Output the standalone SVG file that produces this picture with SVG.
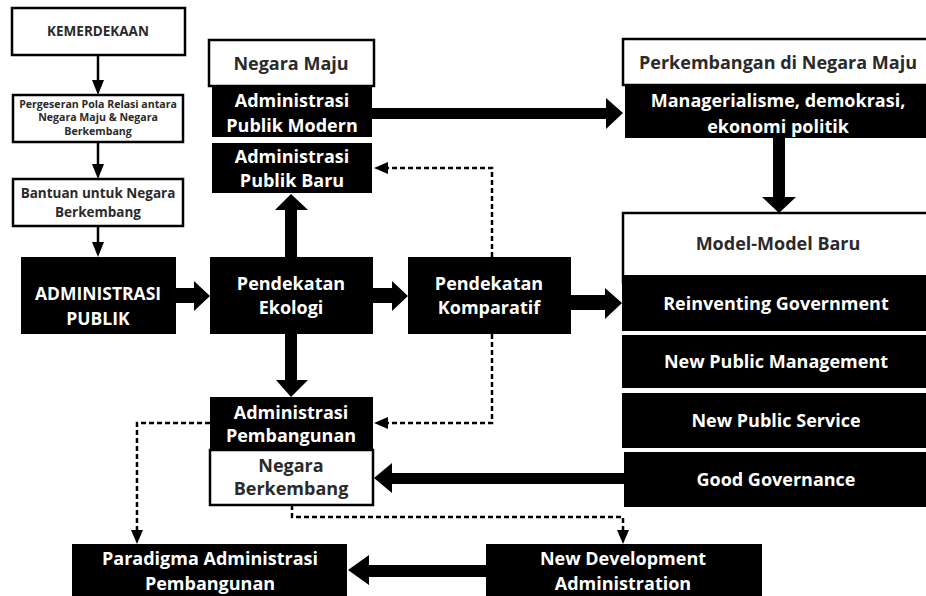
<svg xmlns="http://www.w3.org/2000/svg" width="926" height="596" viewBox="0 0 926 596">
<style>
.wb{fill:#fff;stroke:#000;stroke-width:2.5}
.bb{fill:#000}
text{font-family:"Open Sans","DejaVu Sans",sans-serif;font-weight:bold;text-anchor:middle;dominant-baseline:central}
.tw{fill:#fff}
.td{fill:#2a2a2a}
.f17{font-size:18px}
.thin{stroke:#000;stroke-width:2.5;fill:none}
.dash{stroke:#000;stroke-width:2.5;fill:none;stroke-dasharray:5 3}
.ah{fill:#000}
</style>
<rect width="926" height="596" fill="#fff"/>
<g id="kemerdekaan"><rect class="wb" x="12" y="8" width="173" height="47"/><text class="td" x="98" y="31" font-size="13.5">KEMERDEKAAN</text></g>
<g id="pergeseran"><rect class="wb" x="13" y="95" width="170" height="47"/>
<text class="td" x="98" y="104" font-size="10.6">Pergeseran Pola Relasi antara</text>
<text class="td" x="98" y="117" font-size="10.6">Negara Maju &amp; Negara</text>
<text class="td" x="98" y="131" font-size="10.6">Berkembang</text></g>
<g id="bantuan"><rect class="wb" x="13" y="179" width="170" height="47"/>
<text class="td" x="98" y="193" font-size="13.5">Bantuan untuk Negara</text>
<text class="td" x="98" y="212" font-size="13.5">Berkembang</text></g>
<g id="adm-publik"><rect class="bb" x="21" y="257" width="155" height="77"/>
<text class="tw" x="98" y="293" font-size="17.5">ADMINISTRASI</text>
<text class="tw" x="98" y="318" font-size="17.5">PUBLIK</text></g>
<g id="ekologi"><rect class="bb" x="210" y="257" width="163" height="77"/>
<text class="tw f17" x="291" y="283">Pendekatan</text>
<text class="tw f17" x="291" y="307">Ekologi</text></g>
<g id="komparatif"><rect class="bb" x="408" y="257" width="163" height="77"/>
<text class="tw f17" x="489" y="283">Pendekatan</text>
<text class="tw f17" x="489" y="307">Komparatif</text></g>
<g id="negara-maju"><rect class="wb" x="209" y="40" width="165" height="46"/>
<text class="td f17" x="291" y="63">Negara Maju</text></g>
<g id="apm"><rect class="bb" x="212" y="87" width="160" height="50"/>
<text class="tw f17" x="292" y="100">Administrasi</text>
<text class="tw f17" x="292" y="125">Publik Modern</text></g>
<g id="apb"><rect class="bb" x="212" y="143" width="160" height="50"/>
<text class="tw f17" x="292" y="156">Administrasi</text>
<text class="tw f17" x="292" y="180">Publik Baru</text></g>
<g id="perkembangan"><rect class="wb" x="623" y="39" width="320" height="46"/>
<text class="td f17" x="778" y="62">Perkembangan di Negara Maju</text></g>
<g id="managerialisme"><rect class="bb" x="625" y="86" width="310" height="52"/>
<text class="tw f17" x="778" y="100">Managerialisme, demokrasi,</text>
<text class="tw f17" x="778" y="126">ekonomi politik</text></g>
<g id="model-baru"><rect class="wb" x="623" y="213" width="320" height="70"/>
<text class="td f17" x="778" y="243">Model-Model Baru</text></g>
<g id="reinventing"><rect class="bb" x="622" y="275" width="310" height="56"/>
<text class="tw f17" x="776" y="303">Reinventing Government</text></g>
<g id="npm"><rect class="bb" x="622" y="335" width="310" height="53"/>
<text class="tw f17" x="776" y="361">New Public Management</text></g>
<g id="nps"><rect class="bb" x="622" y="393" width="310" height="55"/>
<text class="tw f17" x="776" y="420">New Public Service</text></g>
<g id="gg"><rect class="bb" x="624" y="452" width="310" height="55"/>
<text class="tw f17" x="776" y="479">Good Governance</text></g>
<g id="adm-pembangunan"><rect class="bb" x="210" y="397" width="163" height="52"/>
<text class="tw f17" x="291" y="412">Administrasi</text>
<text class="tw f17" x="291" y="435">Pembangunan</text></g>
<g id="negara-berkembang"><rect class="wb" x="210" y="450" width="163" height="55"/>
<text class="td f17" x="291" y="465">Negara</text>
<text class="td f17" x="291" y="488">Berkembang</text></g>
<g id="paradigma"><rect class="bb" x="72" y="544" width="275" height="60"/>
<text class="tw f17" x="210" y="558">Paradigma Administrasi</text>
<text class="tw f17" x="210" y="583">Pembangunan</text></g>
<g id="nda"><rect class="bb" x="486" y="544" width="276" height="60"/>
<text class="tw f17" x="623" y="558">New Development</text>
<text class="tw f17" x="623" y="583">Administration</text></g>
<g id="connectors">
<line class="thin" x1="98" y1="55" x2="98" y2="82"/><polygon class="ah" points="92,80 104,80 98,95"/>
<line class="thin" x1="98" y1="142" x2="98" y2="166"/><polygon class="ah" points="92,164 104,164 98,179"/>
<line class="thin" x1="98" y1="226" x2="98" y2="244"/><polygon class="ah" points="92,242 104,242 98,257"/>
<polygon class="ah" points="176,288 194,288 194,281 210,296 194,311 194,303 176,303"/>
<polygon class="ah" points="373,288 392,288 392,281 408,296 392,311 392,303 373,303"/>
<polygon class="ah" points="571,295 605,295 605,288 622,303 605,319 605,310 571,310"/>
<polygon class="ah" points="372,108 606,108 606,98 623,113 606,129 606,119 372,119"/>
<polygon class="ah" points="773,138 785,138 785,197 796,197 779,213 762,197 773,197"/>
<polygon class="ah" points="285,257 285,210 275,210 291,194 308,210 297,210 297,257"/>
<polygon class="ah" points="285,334 297,334 297,380 308,380 291,397 276,380 285,380"/>
<polygon class="ah" points="624,473 392,473 392,463 374,478 392,493 392,484 624,484"/>
<polygon class="ah" points="486,565 369,565 369,555 348,570 369,585 369,577 486,577"/>
<polyline class="dash" points="492,257 492,168 386,168"/><polygon class="ah" points="374,168 388,162 388,174"/>
<polyline class="dash" points="492,334 492,423 386,423"/><polygon class="ah" points="374,423 388,417 388,429"/>
<polyline class="dash" points="210,423 137,423 137,532"/><polygon class="ah" points="137,544 131,530 143,530"/>
<polyline class="dash" points="292,505 292,517 623,517 623,532"/><polygon class="ah" points="623,544 617,530 629,530"/>
</g>
</svg>
